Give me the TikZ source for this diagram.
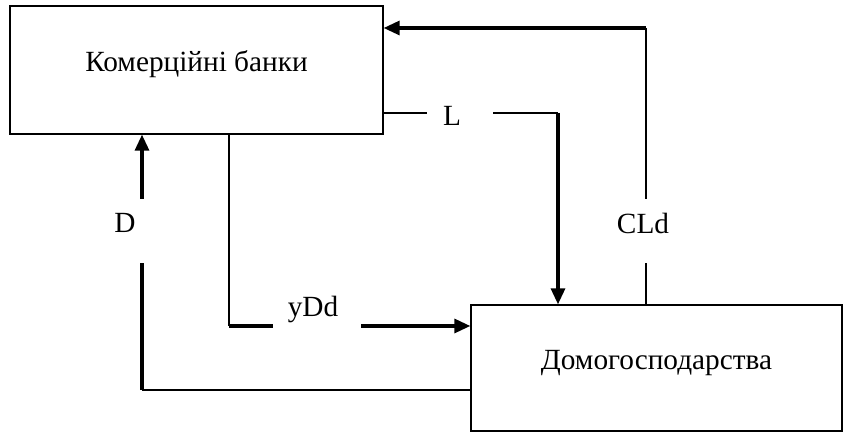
\documentclass[tikz,border=0pt]{standalone}
\usepackage{fontspec}
\setmainfont{Liberation Serif}
\usetikzlibrary{arrows.meta}

\begin{document}
\begin{tikzpicture}[x=0.5bp, y=-0.5bp, font=\fontsize{14.7}{17}\selectfont,
  box/.style={draw, line width=0.65bp, inner sep=0pt, text height=10bp, text depth=8.5bp},
  thinline/.style={line width=0.65bp},
  thickline/.style={line width=1.6bp},
  >={Triangle[length=8bp, width=7bp]}]
\useasboundingbox (0,0) rectangle (844,432);
\node[box, minimum width=186.5bp, minimum height=64bp] (bank) at (196.5,70) {Комерційні банки};
\node[box, minimum width=185.5bp, minimum height=63bp] (home) at (656.5,368) {Домогосподарства};
\coordinate (llo) at (427,113);
\coordinate (lhi) at (493,113);
\coordinate (lcorner) at (558,113);
\coordinate (cllo) at (646,263);
\coordinate (clhi) at (646,199);
\coordinate (clcorner) at (646,28);
\coordinate (ycorner) at (229,326);
\coordinate (ylo) at (273,326);
\coordinate (yhi) at (361,326);
\coordinate (dcorner) at (142,390);
\coordinate (dlo) at (142,263);
\coordinate (dhi) at (142,199);
\draw[thinline] (bank.east |- llo) -- (llo);
\draw[thinline] (lhi) -- (lcorner);
\draw[thickline, ->] (lcorner) -- (lcorner |- home.north);
\draw[thinline] (cllo |- home.north) -- (cllo);
\draw[thinline] (clhi) -- (clcorner);
\draw[thickline, ->] (clcorner) -- (clcorner -| bank.east);
\draw[thinline] (ycorner |- bank.south) -- (ycorner);
\draw[thickline] (ycorner) -- (ylo);
\draw[thickline, ->] (yhi) -- (yhi -| home.west);
\draw[thinline] (home.west |- dcorner) -- (dcorner);
\draw[thickline] (dcorner) -- (dlo);
\draw[thickline, ->] (dhi) -- (dhi |- bank.south);
\node (L) at (452,116) {L};
\node (CLd) at (643,223) {CLd};
\node (yDd) at (313,310) {yDd};
\node (D) at (125,223) {D};
\end{tikzpicture}
\end{document}
